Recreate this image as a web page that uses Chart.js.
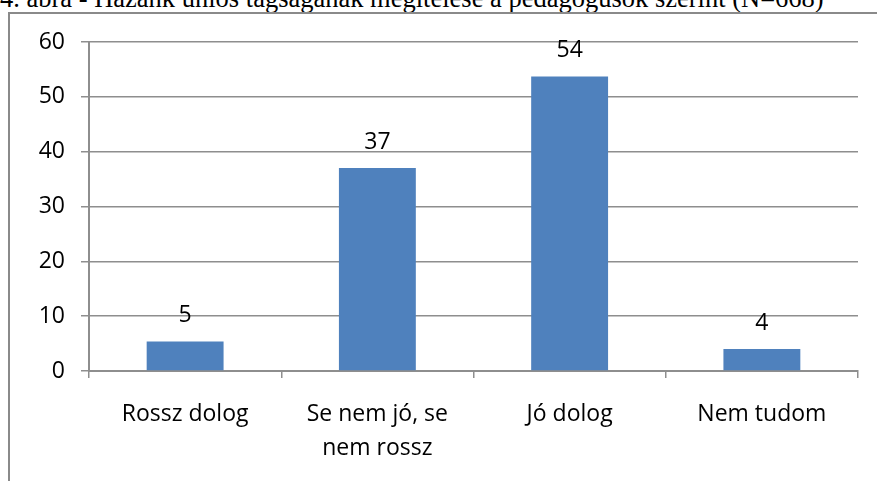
<!DOCTYPE html>
<html>
<head>
<meta charset="utf-8">
<script src="https://cdn.jsdelivr.net/npm/chart.js@4"></script>
<style>
  html, body { margin: 0; padding: 0; width: 877px; height: 481px; overflow: hidden; background: #fff; }
  #caption {
    position: absolute; left: 0; top: -14px; line-height: 24px; white-space: nowrap;
    font-family: "Liberation Serif", "Times New Roman", serif; font-size: 26.5px; color: #000;
  }
  #frame {
    position: absolute; left: 8px; top: 12px; width: 867px; height: 467px;
    border-left: 2px solid #8a8a8a; border-top: 2px solid #8a8a8a;
  }
  canvas { display: block; }
</style>
</head>
<body>
<div id="caption">4. ábra - Hazánk uniós tagságának megítélése a pedagógusok szerint (N=668)</div>
<div id="frame"><canvas id="chart" width="867" height="467"></canvas></div>
<script>
const categories = ['Rossz dolog', ['Se nem jó, se', 'nem rossz'], 'Jó dolog', 'Nem tudom'];
const values = [5.4, 37, 53.7, 4];
const labelsShown = ['5', '37', '54', '4'];
const yTicks = [0, 10, 20, 30, 40, 50, 60];

const gridGray = '#8e8e8e';
const font = { family: '"Open Sans", sans-serif', size: 23, lineHeight: 1.48 };

// value labels above bars
const barLabels = {
  id: 'barLabels',
  afterDatasetsDraw(chart) {
    const c = chart.ctx;
    const meta = chart.getDatasetMeta(0);
    c.save();
    c.font = '23px "Open Sans", sans-serif';
    c.fillStyle = '#000';
    c.textAlign = 'center';
    c.textBaseline = 'middle';
    meta.data.forEach((bar, i) => {
      c.fillText(labelsShown[i], bar.x, bar.y - 26);
    });
    c.restore();
  }
};

new Chart(document.getElementById('chart'), {
  type: 'bar',
  data: {
    labels: categories,
    datasets: [{
      data: values,
      backgroundColor: '#4f81bd',
      barPercentage: 0.4,
      categoryPercentage: 1
    }]
  },
  options: {
    responsive: false,
    animation: false,
    layout: { padding: { top: 28, right: 19, left: 0, bottom: 0 } },
    plugins: { legend: { display: false }, tooltip: { enabled: false } },
    scales: {
      x: {
        grid: { display: true, drawOnChartArea: false, offset: true, tickLength: 7, color: gridGray, lineWidth: 1.5 },
        border: { color: gridGray, width: 2 },
        ticks: { color: '#000', font: font, padding: 19, maxRotation: 0 },
        afterFit(scale) { scale.height = 110; }
      },
      y: {
        min: 0,
        max: 60,
        afterBuildTicks(scale) { scale.ticks = yTicks.map(v => ({ value: v })); },
        grid: { color: gridGray, lineWidth: 1.5, tickLength: 8 },
        border: { color: gridGray, width: 2 },
        ticks: { color: '#000', font: font, padding: 16 },
        afterFit(scale) {
          scale.width = 79;
          scale.paddingTop = 0;
          scale.paddingBottom = 0;
        }
      }
    }
  },
  plugins: [barLabels]
});
</script>
</body>
</html>
